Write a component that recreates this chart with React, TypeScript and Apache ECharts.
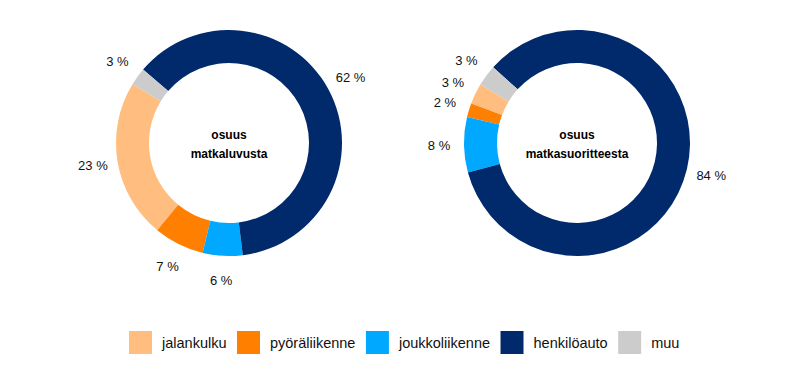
import React, { useEffect, useRef } from "react";
import * as echarts from "echarts";

const categories = ["jalankulku", "pyöräliikenne", "joukkoliikenne", "henkilöauto", "muu"];
const colors = ["#FFBE80", "#FF8000", "#00A8FF", "#002A6C", "#CCCCCC"];
const tripShares = [22.8, 7.2, 5.7, 61.8, 2.5];
const distanceShares = [3.0, 2.0, 7.9, 84.1, 3.0];
const centerTitles = ["osuus\nmatkaluvusta", "osuus\nmatkasuoritteesta"];

const FONT = "'Liberation Sans', Arial, sans-serif";

export default function App() {
  const ref = useRef<HTMLDivElement>(null);
  useEffect(() => {
    document.body.style.margin = "0";
    if (!ref.current) return;
    const chart = echarts.init(ref.current, undefined, { renderer: "svg" });
    const donuts = [
      { values: tripShares, center: [229, 143], start: 148.5, title: centerTitles[0] },
      { values: distanceShares, center: [577, 143], start: 148.7, title: centerTitles[1] },
    ];
    const mkData = (vals: number[]) =>
      categories.map((name, i) => ({ name, value: vals[i], itemStyle: { color: colors[i] } }));
    const rings: any[] = donuts.map((d) => ({
      type: "pie",
      center: d.center,
      radius: [80, 113],
      startAngle: d.start,
      clockwise: false,
      silent: true,
      label: { show: false },
      labelLine: { show: false },
      emphasis: { disabled: true },
      itemStyle: { borderWidth: 0 },
      data: mkData(d.values),
    }));
    const labelRings: any[] = donuts.map((d) => ({
      type: "pie",
      center: d.center,
      radius: [125, 145],
      startAngle: d.start,
      clockwise: false,
      silent: true,
      emphasis: { disabled: true },
      itemStyle: { color: "rgba(0,0,0,0)", borderWidth: 0 },
      label: {
        show: true,
        position: "inside",
        color: "#111111",
        fontSize: 13,
        fontFamily: FONT,
        textBorderWidth: 0,
        formatter: (p: any) => `${Math.round(p.value)} %`,
      },
      labelLine: { show: false },
      data: categories.map((name, i) => ({ name, value: d.values[i] })),
    }));
    chart.setOption({
      animation: false,
      backgroundColor: "#ffffff",
      legend: {
        left: 129,
        top: 331,
        padding: 0,
        itemWidth: 23,
        itemHeight: 23,
        itemGap: 10.5,
        icon: "rect",
        selectedMode: false,
        data: categories.map((name, i) => ({ name, itemStyle: { color: colors[i] } })),
        textStyle: {
          fontSize: 14.5,
          fontFamily: FONT,
          color: "#111111",
          padding: [0, 0, 0, 5],
        },
      },
      graphic: donuts.map((d) => ({
        type: "text",
        x: d.center[0],
        y: d.center[1] + 1,
        style: {
          text: d.title,
          textAlign: "center",
          textVerticalAlign: "middle",
          font: `bold 12px ${FONT}`,
          lineHeight: 19,
          fill: "#000000",
        },
      })),
      series: [...rings, ...labelRings],
    });
    return () => chart.dispose();
  }, []);
  return <div ref={ref} style={{ width: 800, height: 376 }} />;
}
